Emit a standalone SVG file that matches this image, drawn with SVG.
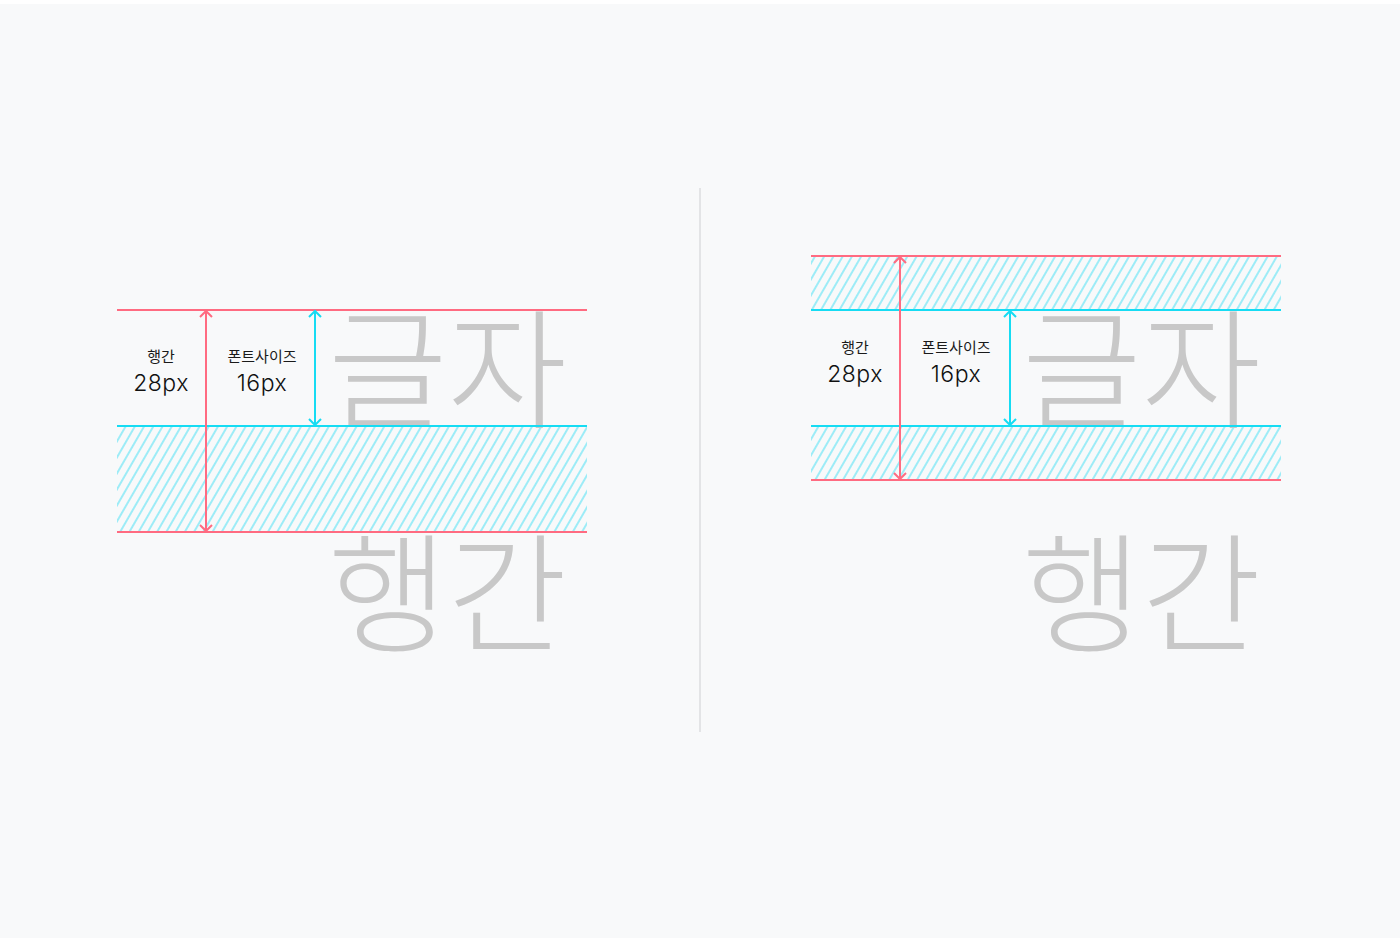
<svg xmlns="http://www.w3.org/2000/svg" width="1400" height="938" viewBox="0 0 1400 938">
<defs>
<pattern id="hatch" patternUnits="userSpaceOnUse" width="8" height="8" patternTransform="rotate(30)">
<line x1="2" y1="-2" x2="2" y2="10" stroke="#86e9f6" stroke-width="1.6"/>
</pattern>
<style>
.red{stroke:#ff6b81;stroke-width:2;fill:none}
.cyan{stroke:#16dcf3;stroke-width:2;fill:none}
.big{font-family:"Noto Sans CJK KR","Noto Sans",sans-serif;font-size:130px;font-weight:300;fill:#c8c8c8}
.lab{font-family:"Noto Sans CJK KR","Noto Sans",sans-serif;font-size:15px;fill:#1a1a1a;text-anchor:middle}
.num{font-family:Inter,"Noto Sans",sans-serif;font-size:23px;font-weight:300;letter-spacing:0.5px;fill:#111111;text-anchor:middle}
</style>
</defs>
<rect width="1400" height="938" fill="#ffffff"/>
<rect x="0" y="4" width="1400" height="934" fill="#f8f9fa"/>
<line x1="700" y1="188" x2="700" y2="732" stroke="#e3e4e6" stroke-width="2"/>

<g id="left-panel">
<rect x="117" y="426" width="470" height="106" fill="url(#hatch)"/>
<text class="big" x="328" y="418">글자</text>
<text class="big" x="328" y="642">행간</text>
<text class="lab" x="161" y="362">행간</text>
<text class="num" x="161" y="391">28px</text>
<text class="lab" x="262" y="362">폰트사이즈</text>
<text class="num" x="262" y="391">16px</text>
</g>

<g id="right-panel">
<rect x="811" y="256" width="470" height="54" fill="url(#hatch)"/>
<rect x="811" y="426" width="470" height="54" fill="url(#hatch)"/>
<text class="big" x="1022" y="418">글자</text>
<text class="big" x="1022" y="642">행간</text>
<text class="lab" x="855" y="353">행간</text>
<text class="num" x="855" y="382">28px</text>
<text class="lab" x="956" y="353">폰트사이즈</text>
<text class="num" x="956" y="382">16px</text>
</g>

<g id="connectors">
<line class="red" x1="117" y1="310" x2="587" y2="310"/>
<line class="cyan" x1="117" y1="426" x2="587" y2="426"/>
<line class="red" x1="117" y1="532" x2="587" y2="532"/>
<line class="red" x1="206" y1="311" x2="206" y2="531"/>
<path class="red" d="M200 317 L206 311 L212 317 M200 525 L206 531 L212 525"/>
<line class="cyan" x1="315" y1="311" x2="315" y2="425"/>
<path class="cyan" d="M309 317 L315 311 L321 317 M309 419 L315 425 L321 419"/>

<line class="red" x1="811" y1="256" x2="1281" y2="256"/>
<line class="cyan" x1="811" y1="310" x2="1281" y2="310"/>
<line class="cyan" x1="811" y1="426" x2="1281" y2="426"/>
<line class="red" x1="811" y1="480" x2="1281" y2="480"/>
<line class="red" x1="900" y1="257" x2="900" y2="479"/>
<path class="red" d="M894 263 L900 257 L906 263 M894 473 L900 479 L906 473"/>
<line class="cyan" x1="1010" y1="311" x2="1010" y2="425"/>
<path class="cyan" d="M1004 317 L1010 311 L1016 317 M1004 419 L1010 425 L1016 419"/>
</g>
</svg>
